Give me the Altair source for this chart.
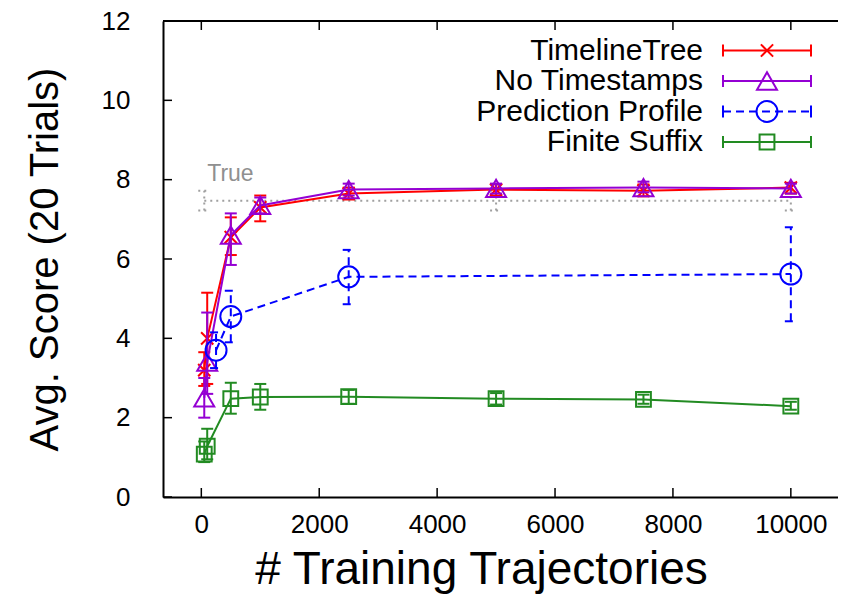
import altair as alt
import pandas as pd

# ---------------- data ----------------
x_main = [50, 100, 500, 1000, 2500, 5000, 7500, 10000]

tt_y = [3.2, 4.0, 6.55, 7.3, 7.65, 7.75, 7.72, 7.8]
tt_lo = [2.8, 2.85, 6.1, 6.95, 7.5, 7.6, 7.58, 7.65]
tt_hi = [3.65, 5.15, 7.05, 7.6, 7.8, 7.88, 7.88, 7.92]

nt_y = [2.5, 3.4, 6.6, 7.35, 7.75, 7.78, 7.8, 7.78]
nt_lo = [2.0, 2.6, 5.85, 7.15, 7.6, 7.65, 7.68, 7.65]
nt_hi = [3.0, 4.65, 7.15, 7.55, 7.9, 7.9, 7.95, 7.9]

pp_x = [250, 500, 2500, 10000]
pp_y = [3.7, 4.55, 5.55, 5.62]
pp_lo = [3.25, 3.9, 4.86, 4.43]
pp_hi = [4.15, 5.2, 6.23, 6.8]

fs_y = [1.08, 1.28, 2.48, 2.52, 2.53, 2.48, 2.46, 2.29]
fs_lo = [0.88, 0.95, 2.1, 2.2, 2.35, 2.33, 2.35, 2.2]
fs_hi = [1.4, 1.72, 2.88, 2.85, 2.7, 2.62, 2.58, 2.4]

true_x = [50, 5000, 10000]
true_y = [7.47, 7.47, 7.47]
true_lo = [7.22, 7.22, 7.22]
true_hi = [7.72, 7.72, 7.72]

x_ticks = [0, 2000, 4000, 6000, 8000, 10000]
y_ticks = [0, 2, 4, 6, 8, 10, 12]

series_names = ["TimelineTree", "No Timestamps", "Prediction Profile", "Finite Suffix"]

# ---------------- layout / style ----------------
W, H = 675, 476
FONT = "Liberation Sans"
xscale = alt.Scale(domain=[-650, 10800], nice=False, zero=False)
yscale = alt.Scale(domain=[0, 12], nice=False, zero=False)

X_AXIS = alt.Axis(
    values=x_ticks, format="d", labelPadding=14,
    title="# Training Trajectories", titleFontSize=46,
    titleX=318, titleY=86, titleBaseline="alphabetic", titleAlign="center")
Y_AXIS = alt.Axis(
    values=y_ticks, format="d", labelPadding=33,
    title="Avg. Score (20 Trials)", titleAngle=270, titleFontSize=40,
    titleX=-118, titleY=238, titleBaseline="middle", titleAlign="center")


def XE(field):
    return alt.X(field, scale=xscale, axis=X_AXIS)


def YE(field):
    return alt.Y(field, scale=yscale, axis=Y_AXIS)


X_PATH = "M-1,-1L1,1M-1,1L1,-1"


def df_of(xs, ys, lo, hi):
    return pd.DataFrame({"x": xs, "y": ys, "lo": lo, "hi": hi})


def series_layers(df, color, shape, size, dash=None):
    base = alt.Chart(df)
    kw = {"strokeDash": dash} if dash else {}
    line = base.mark_line(color=color, strokeWidth=2, **kw).encode(x=XE("x:Q"), y=YE("y:Q"))
    bar = base.mark_rule(color=color, strokeWidth=2, **kw).encode(
        x=XE("x:Q"), y=YE("lo:Q"), y2="hi:Q")
    cap_lo = base.mark_rule(color=color, strokeWidth=2, xOffset=-6, x2Offset=6, **kw).encode(
        x=XE("x:Q"), x2="x:Q", y=YE("lo:Q"))
    cap_hi = base.mark_rule(color=color, strokeWidth=2, xOffset=-6, x2Offset=6, **kw).encode(
        x=XE("x:Q"), x2="x:Q", y=YE("hi:Q"))
    layers = [line, bar, cap_lo, cap_hi]
    if shape is not None:
        pt = base.mark_point(shape=shape, size=size, filled=False, color=color,
                             strokeWidth=2, opacity=1).encode(x=XE("x:Q"), y=YE("y:Q"))
        layers.append(pt)
    return layers


RED = "#ff0000"
PURPLE = "#9400d3"
BLUE = "#0000ff"
GREEN = "#228b22"
GRAY = "#a0a0a0"

SIZES = {"tt": 150, "nt": 400, "pp": 440, "fs": 220}

layers = []

# top border
one = pd.DataFrame({"a": [0]})
layers.append(alt.Chart(one).mark_rule(color="black", strokeWidth=2).encode(
    x=alt.value(0), x2=alt.value(W), y=alt.value(0)))

# inward ticks
xt = pd.DataFrame({"x": x_ticks})
yt = pd.DataFrame({"y": y_ticks})
TL = 9
layers.append(alt.Chart(xt).mark_rule(color="black", strokeWidth=1.5).encode(
    x=XE("x:Q"), y=alt.value(H), y2=alt.value(H - TL)))
layers.append(alt.Chart(xt).mark_rule(color="black", strokeWidth=1.5).encode(
    x=XE("x:Q"), y=alt.value(0), y2=alt.value(TL)))
layers.append(alt.Chart(yt).mark_rule(color="black", strokeWidth=1.5).encode(
    y=YE("y:Q"), x=alt.value(0), x2=alt.value(TL)))

# series
layers += series_layers(df_of(true_x, true_y, true_lo, true_hi), GRAY, None, 0, dash=[2, 4])
layers += series_layers(df_of(x_main, tt_y, tt_lo, tt_hi), RED, X_PATH, SIZES["tt"])
layers += series_layers(df_of(x_main, nt_y, nt_lo, nt_hi), PURPLE, "triangle-up", SIZES["nt"])
layers += series_layers(df_of(pp_x, pp_y, pp_lo, pp_hi), BLUE, "circle", SIZES["pp"], dash=[8, 5])
layers += series_layers(df_of(x_main, fs_y, fs_lo, fs_hi), GREEN, "square", SIZES["fs"])

# "True" label
lab_df = pd.DataFrame({"x": [100], "y": [8.15], "label": ["True"]})
layers.append(alt.Chart(lab_df).mark_text(
    align="left", baseline="middle", font=FONT, fontSize=23, color="#909090").encode(
    x=XE("x:Q"), y=YE("y:Q"), text="label:N"))

# legend (manual, gnuplot style)
leg_colors = [RED, PURPLE, BLUE, GREEN]
leg_shapes = [X_PATH, "triangle-up", "circle", "square"]
leg_sizes = [SIZES["tt"], SIZES["nt"], SIZES["pp"], SIZES["fs"]]
leg_dash = [None, None, [8, 5], None]
ROW0, ROWSTEP = 29.5, 30.5
TX, L0, L1, MX = 540, 560, 648, 604
for i, name in enumerate(series_names):
    ry = ROW0 + i * ROWSTEP
    d = pd.DataFrame({"name": [name]})
    kw = {"strokeDash": leg_dash[i]} if leg_dash[i] else {}
    layers.append(alt.Chart(d).mark_text(
        align="right", baseline="middle", font=FONT, fontSize=30, color="black").encode(
        x=alt.value(TX), y=alt.value(ry), text="name:N"))
    layers.append(alt.Chart(d).mark_rule(color=leg_colors[i], strokeWidth=2, **kw).encode(
        x=alt.value(L0), x2=alt.value(L1), y=alt.value(ry)))
    for cx in (L0, L1):
        layers.append(alt.Chart(d).mark_rule(color=leg_colors[i], strokeWidth=2).encode(
            x=alt.value(cx), y=alt.value(ry - 6), y2=alt.value(ry + 6)))
    layers.append(alt.Chart(d).mark_point(
        shape=leg_shapes[i], size=leg_sizes[i], filled=False, color=leg_colors[i],
        strokeWidth=2, opacity=1).encode(x=alt.value(MX), y=alt.value(ry)))

chart = alt.layer(*layers).properties(
    width=W, height=H,
    background="white",
    autosize=alt.AutoSizeParams(type="none"),
    padding={"left": 155, "top": 13, "right": 0, "bottom": 97},
).configure_view(stroke=None).configure_axis(
    ticks=False, tickSize=0, grid=False,
    domain=True, domainColor="black", domainWidth=2,
    labelFont=FONT, labelFontSize=26, labelColor="black", labelFlush=False,
    titleFont=FONT, titleFontWeight="normal", titleColor="black",
)

chart.save("out.html", embed_options={"renderer": "svg", "actions": False})
